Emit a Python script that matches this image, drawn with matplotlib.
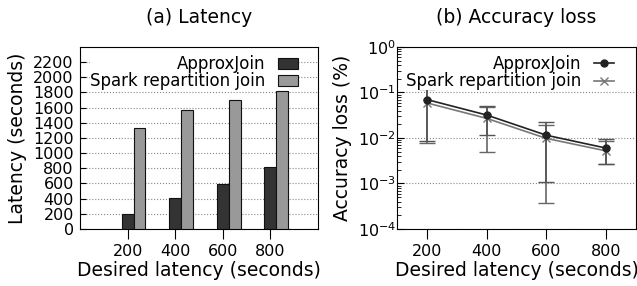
import numpy as np
import matplotlib.pyplot as plt
from matplotlib.lines import Line2D
from matplotlib.ticker import FixedLocator, LogLocator, NullFormatter

desired = np.array([200, 400, 600, 800])

# (a) latency, seconds
lat_approx = np.array([200, 410, 590, 815])
lat_spark = np.array([1335, 1570, 1695, 1820])

# (b) accuracy loss, percent (point, lower end, upper end)
acc_approx = np.array([0.070, 0.032, 0.0115, 0.0060])
acc_approx_lo = np.array([0.0086, 0.0116, 0.00107, 0.0027])
acc_approx_hi = np.array([0.126, 0.051, 0.022, 0.0095])
acc_spark = np.array([0.059, 0.027, 0.0098, 0.0052])
acc_spark_lo = np.array([0.0078, 0.0050, 0.00038, 0.0027])
acc_spark_hi = np.array([0.118, 0.048, 0.019, 0.0085])

fig = plt.figure(figsize=(6.37, 2.86), dpi=100)
ax1 = fig.add_axes([0.1256, 0.1993, 0.3736, 0.6364])
ax2 = fig.add_axes([0.6232, 0.1993, 0.3752, 0.6364])

fs = 11.5
lfs = 12
labfs = 13.5


def white_legend(ax, handles, labels, anchor):
    leg = ax.legend(handles, labels, loc='upper right', bbox_to_anchor=anchor,
                    markerfirst=False, frameon=True, fontsize=lfs,
                    borderpad=0.0, labelspacing=-0.05, handlelength=1.2,
                    handletextpad=0.75, borderaxespad=0.0, fancybox=False)
    leg.get_frame().set_edgecolor('none')
    leg.get_frame().set_facecolor('white')
    leg.get_frame().set_alpha(1)
    return leg


# ---- left: bars
w = 50
b1 = ax1.bar(desired, lat_approx, w, color='#333333', edgecolor='#111111', lw=0.8,
             zorder=3)
b2 = ax1.bar(desired + w, lat_spark, w, color='#999999', edgecolor='#111111', lw=0.8,
             zorder=3)
ax1.set_xlim(0, 1000)
ax1.set_ylim(0, 2400)
ax1.set_xticks(desired)
ax1.set_yticks(np.arange(0, 2201, 200))
ax1.yaxis.grid(True, ls=':', color='#888888', lw=0.8, zorder=0)
ax1.tick_params(axis='y', direction='in', length=4, labelsize=fs, pad=4.5)
ax1.tick_params(axis='x', direction='out', length=7, labelsize=fs)
ax1.set_ylabel('Latency (seconds)', fontsize=labfs, labelpad=4.5)
ax1.set_xlabel('Desired latency (seconds)', fontsize=labfs, labelpad=2)
ax1.set_title('(a) Latency', fontsize=labfs, pad=17.5)
white_legend(ax1, [b1, b2], ['ApproxJoin', 'Spark repartition join'], (0.916, 0.955))

# ---- right: accuracy loss
ax2.set_yscale('log')
ax2.errorbar(desired, acc_spark,
             yerr=[acc_spark - acc_spark_lo, acc_spark_hi - acc_spark],
             color='#777777', ecolor='#666666', marker='x', ms=6, lw=1.2,
             capsize=6, elinewidth=1.2, zorder=3)
ax2.errorbar(desired, acc_approx,
             yerr=[acc_approx - acc_approx_lo, acc_approx_hi - acc_approx],
             color='#222222', ecolor='#555555', marker='o', ms=5, lw=1.2,
             capsize=6, elinewidth=1.2, zorder=4)
ax2.set_xlim(100, 900)
ax2.set_ylim(1e-4, 1)
ax2.set_xticks(desired)
ax2.yaxis.set_major_locator(FixedLocator([1e-4, 1e-3, 1e-2, 1e-1, 1]))
ax2.yaxis.set_minor_locator(LogLocator(base=10, subs=np.arange(2, 10)))
ax2.yaxis.set_minor_formatter(NullFormatter())
ax2.yaxis.grid(True, which='major', ls=':', color='#888888', lw=0.8, zorder=0)
ax2.tick_params(axis='y', which='major', direction='in', length=5, labelsize=fs, pad=0.5)
ax2.tick_params(axis='y', which='minor', direction='in', length=3)
ax2.tick_params(axis='x', direction='out', length=7, labelsize=fs)
ax2.set_ylabel('Accuracy loss (%)', fontsize=labfs, labelpad=4)
ax2.set_xlabel('Desired latency (seconds)', fontsize=labfs, labelpad=2)
ax2.set_title('(b) Accuracy loss', fontsize=labfs, pad=17.5)
h_approx = Line2D([], [], color='#222222', marker='o', ms=5, lw=1.2)
h_spark = Line2D([], [], color='#777777', marker='x', ms=6, lw=1.2)
white_legend(ax2, [h_approx, h_spark], ['ApproxJoin', 'Spark repartition join'], (0.908, 0.955))

fig.savefig('out.png', dpi=100)
